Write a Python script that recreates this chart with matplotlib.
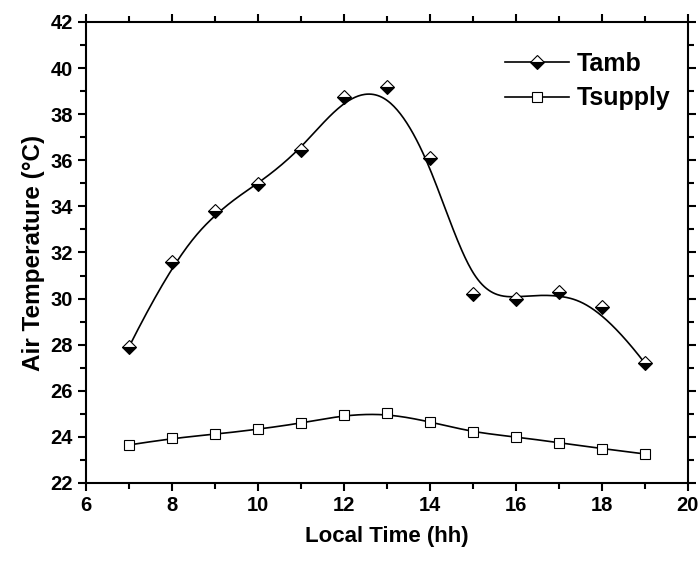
import numpy as np
import matplotlib
matplotlib.use("Agg")
from matplotlib import pyplot as plt
from matplotlib.ticker import MultipleLocator
from matplotlib.lines import Line2D

hours = [7, 8, 9, 10, 11, 12, 13, 14, 15, 16, 17, 18, 19]
t_amb = [27.9, 31.6, 33.8, 34.96, 36.45, 38.76, 39.19, 36.09, 30.19, 30.0, 30.3, 29.62, 27.2]
t_supply = [23.65, 23.94, 24.11, 24.33, 24.59, 24.95, 25.02, 24.66, 24.2, 24.0, 23.75, 23.49, 23.26]


# clamped cubic B-spline through the points as control points (Origin style)
def bspline(xs, ys, n=400):
    P = np.column_stack([xs, ys]).astype(float)
    k = 3
    m = len(P)
    knots = np.concatenate([[0] * k, np.arange(m - k + 1), [m - k] * k]).astype(float)
    out = []
    for t in np.linspace(0, m - k, n):
        i = np.searchsorted(knots, t, side='right') - 1
        i = min(i, m - 1)
        d = [P[j + i - k].copy() for j in range(k + 1)]
        for r in range(1, k + 1):
            for j in range(k, r - 1, -1):
                a = (t - knots[j + i - k]) / (knots[j + 1 + i - r] - knots[j + i - k])
                d[j] = (1 - a) * d[j - 1] + a * d[j]
        out.append(d[k])
    out = np.array(out)
    return out[:, 0], out[:, 1]


plt.rcParams['font.family'] = ['Liberation Sans', 'DejaVu Sans']
plt.rcParams['font.weight'] = 'bold'

fig = plt.figure(figsize=(6.99, 5.62), dpi=100)
ax = fig.add_axes([0.123, 0.1406, 0.861, 0.8203])

bx, by = bspline(hours, t_amb)
ax.plot(bx, by, color='black', lw=1.2)
ax.plot(hours, t_amb, ls='none', marker='D', ms=7.5, fillstyle='bottom',
        markerfacecolor='black', markerfacecoloralt='white',
        markeredgecolor='black', markeredgewidth=0.8)

sx, sy = bspline(hours, t_supply)
ax.plot(sx, sy, color='black', lw=1.2)
ax.plot(hours, t_supply, ls='none', marker='s', ms=7, markerfacecolor='white',
        markeredgecolor='black', markeredgewidth=0.8)

ax.set_xlim(6, 20)
ax.set_ylim(22, 42)
ax.xaxis.set_major_locator(MultipleLocator(2))
ax.xaxis.set_minor_locator(MultipleLocator(1))
ax.yaxis.set_major_locator(MultipleLocator(2))
ax.yaxis.set_minor_locator(MultipleLocator(1))
ax.tick_params(which='both', direction='out', top=True, right=True, width=1.5,
               labelsize=14.5)
ax.tick_params(which='major', length=6)
ax.tick_params(which='minor', length=4)
for s in ax.spines.values():
    s.set_linewidth(1.5)

ax.set_xlabel('Local Time (hh)', fontsize=16, fontweight='bold', labelpad=8)
ax.set_ylabel('Air Temperature (°C)', fontsize=17.5, fontweight='bold', labelpad=4)

h1 = Line2D([], [], color='black', lw=1.2, marker='D', ms=7.5, fillstyle='bottom',
            markerfacecolor='black', markerfacecoloralt='white',
            markeredgecolor='black', markeredgewidth=0.8)
h2 = Line2D([], [], color='black', lw=1.2, marker='s', ms=7,
            markerfacecolor='white', markeredgecolor='black', markeredgewidth=0.8)
ax.legend([h1, h2], ['Tamb', 'Tsupply'], loc='upper left', frameon=False,
          fontsize=18, handlelength=2.56, handletextpad=0.32, labelspacing=0.42,
          bbox_to_anchor=(0.696, 0.935), borderaxespad=0, borderpad=0)

plt.savefig("out.png", dpi=100)
